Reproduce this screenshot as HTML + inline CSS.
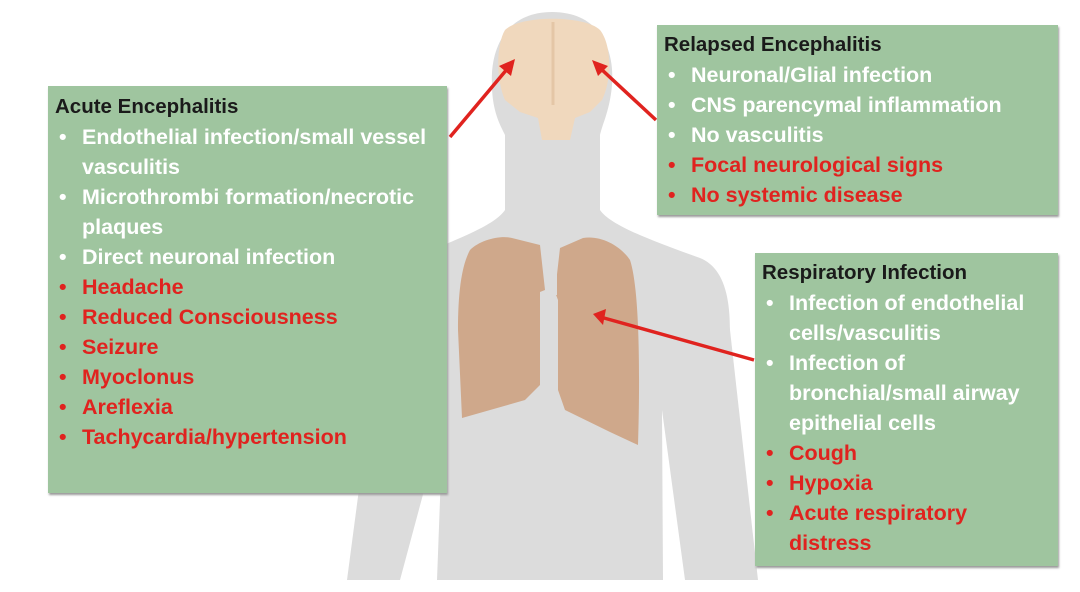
<!DOCTYPE html>
<html><head><meta charset="utf-8"><style>
html,body{margin:0;padding:0;background:#fff;}
body{width:1080px;height:592px;position:relative;overflow:hidden;font-family:"Liberation Sans",sans-serif;}
svg{position:absolute;left:0;top:0;}
.box{position:absolute;background:#9fc59f;box-shadow:1px 2px 2px #9a9a9a;font-weight:bold;font-size:21.5px;line-height:30px;color:#fff;white-space:nowrap;}
.box h3{margin:0;font-size:20.5px;color:#1a1a1a;line-height:30px;}
.box ul{margin:0;padding:0;list-style:none;}
.box li{position:relative;padding-left:27px;}
.box li:before{content:"•";position:absolute;left:4px;}
.r{color:#e0231f;}
</style></head><body>
<svg width="1080" height="592" viewBox="0 0 1080 592">
<path d="M552 12 C600 12 615 50 612 85 C610 110 602 125 600 135 L600 210 C610 225 650 240 700 258 C725 268 730 300 730 330 L758 580 L685 580 L662 410 L663 580 L437 580 L443 420 L400 580 L347 580 L380 330 C382 290 395 265 420 255 C460 238 495 225 505 210 L505 135 C500 125 492 110 492 85 C490 50 505 12 552 12 Z" fill="#dcdcdc"/>
<path d="M505 30 C520 15 585 15 600 30 C612 45 612 80 602 100 L590 112 L575 118 L570 140 L542 140 L538 118 L520 112 L505 100 C496 80 496 45 505 30 Z" fill="#f0d8bd"/>
<line x1="553" y1="22" x2="553" y2="105" stroke="#e4c6a6" stroke-width="3"/>
<path d="M470 250 C480 240 500 235 512 238 L540 245 L545 290 L540 292 L540 385 L525 400 L462 418 L458 330 C458 290 462 265 470 250 Z" fill="#cfa88b"/>
<path d="M583 238 C600 235 620 245 630 260 C640 290 640 380 638 445 L610 432 L565 410 L558 390 L558 300 L555 292 L560 248 Z" fill="#cfa88b"/>
<rect x="545" y="235" width="12" height="60" fill="#dcdcdc"/>
<g stroke="#e0231f" stroke-width="3.5" fill="#e0231f">
<line x1="450" y1="137" x2="508" y2="68"/>
<polygon points="515,59 499,66 511,76" stroke="none"/>
<line x1="656" y1="120" x2="600" y2="68"/>
<polygon points="592,60 598,76 608,66" stroke="none"/>
<line x1="754" y1="360" x2="604" y2="318"/>
<polygon points="593,314 606,309 603,325" stroke="none"/>
</g>
</svg>
<div class="box" style="left:48px;top:86px;width:399px;height:407px;padding:6px 0 0 7px;box-sizing:border-box;">
<h3>Acute Encephalitis</h3>
<ul>
<li>Endothelial infection/small vessel<br>vasculitis</li>
<li>Microthrombi formation/necrotic<br>plaques</li>
<li>Direct neuronal infection</li>
<li class="r">Headache</li>
<li class="r">Reduced Consciousness</li>
<li class="r">Seizure</li>
<li class="r">Myoclonus</li>
<li class="r">Areflexia</li>
<li class="r">Tachycardia/hypertension</li>
</ul></div>
<div class="box" style="left:657px;top:25px;width:401px;height:190px;padding:5px 0 0 7px;box-sizing:border-box;">
<h3>Relapsed Encephalitis</h3>
<ul>
<li>Neuronal/Glial infection</li>
<li>CNS parencymal inflammation</li>
<li>No vasculitis</li>
<li class="r">Focal neurological signs</li>
<li class="r">No systemic disease</li>
</ul></div>
<div class="box" style="left:755px;top:253px;width:303px;height:313px;padding:5px 0 0 7px;box-sizing:border-box;">
<h3>Respiratory Infection</h3>
<ul>
<li>Infection of endothelial<br>cells/vasculitis</li>
<li>Infection of<br>bronchial/small airway<br>epithelial cells</li>
<li class="r">Cough</li>
<li class="r">Hypoxia</li>
<li class="r">Acute respiratory<br>distress</li>
</ul></div>
</body></html>
